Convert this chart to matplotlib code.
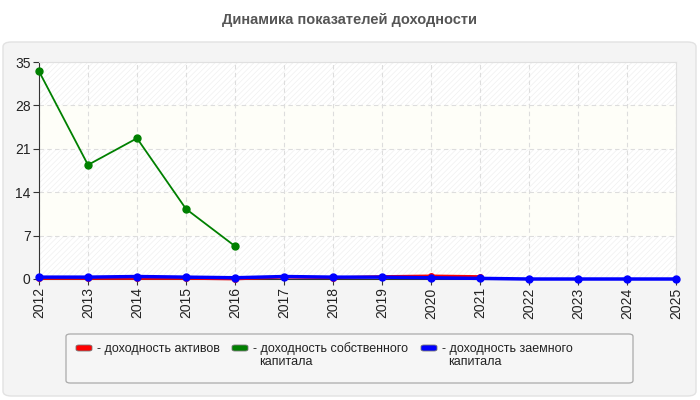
import matplotlib
matplotlib.use('Agg')
import matplotlib.pyplot as plt
from matplotlib.patches import FancyBboxPatch

plt.rcParams['font.family'] = ['Liberation Sans', 'DejaVu Sans']
plt.rcParams['hatch.linewidth'] = 0.5

years = [2012, 2013, 2014, 2015, 2016, 2017, 2018, 2019, 2020, 2021, 2022, 2023, 2024, 2025]

# доходность активов
assets_years = [2012, 2013, 2014, 2015, 2016, 2017, 2018, 2019, 2020, 2021]
assets = [0.1, 0.1, 0.1, 0.1, 0.0, 0.3, 0.2, 0.4, 0.5, 0.4]

# доходность собственного капитала
equity_years = [2012, 2013, 2014, 2015, 2016]
equity = [33.5, 18.4, 22.7, 11.3, 5.3]

# доходность заемного капитала
debt = [0.3, 0.3, 0.4, 0.3, 0.2, 0.4, 0.3, 0.3, 0.2, 0.1, 0.0, 0.0, 0.0, 0.0]

y_ticks = [0, 7, 14, 21, 28, 35]
labels = ['- доходность активов', '- доходность собственного\nкапитала',
          '- доходность заемного\nкапитала']
colors = ['#ff0000', '#008000', '#0000ff']

fig = plt.figure(figsize=(7, 4), dpi=100)
fig.patch.set_facecolor('white')

# outer panel
panel = FancyBboxPatch((3/700, 4/400), 693/700, 354/400,
                       boxstyle='round,pad=0,rounding_size=0.012',
                       transform=fig.transFigure, facecolor='#f4f4f4',
                       edgecolor='#e2e2e2', linewidth=1, zorder=-10)
fig.patches.append(panel)

fig.text(0.5, 0.95, 'Динамика показателей доходности', ha='center', va='center',
         fontsize=10.5, fontweight='bold', color='#555555',
         family=['Liberation Sans Narrow', 'Liberation Sans', 'DejaVu Sans'])

ax = fig.add_axes([39/700, 1 - 279/400, 637/700, 217/400])
ax.set_zorder(2)
ax.set_facecolor('white')
ax.set_xlim(2012, 2025)
ax.set_ylim(0, 35)

# alternating bands
for i in range(5):
    lo, hi = y_ticks[i], y_ticks[i + 1]
    if i % 2 == 0:
        ax.axhspan(lo, hi, facecolor='white', edgecolor='#f0f0f0', hatch='//////',
                   linewidth=0, zorder=0)
    else:
        ax.axhspan(lo, hi, facecolor='#fefef8', linewidth=0, zorder=0)

ax.grid(True, linestyle=(0, (4, 3)), color='#dddddd', linewidth=0.8, zorder=1)
ax.set_axisbelow(True)
ax.set_xticks(years)
ax.set_xticklabels([str(y) for y in years], rotation=90, fontsize=10, color='#222222')
ax.set_yticks(y_ticks)
ax.set_yticklabels([str(v) for v in y_ticks], fontsize=10, color='#222222')
ax.tick_params(length=4, width=0.8, color='#333333', pad=2)

for side in ['top', 'right']:
    ax.spines[side].set_color('#e0e0e0')
ax.spines['left'].set_color('#333333')
ax.spines['bottom'].set_color('#333333')

ax.plot(assets_years, assets, color=colors[0], linewidth=2, marker='o',
        markersize=4, zorder=3, clip_on=False)
ax.plot(equity_years, equity, color=colors[1], linewidth=1.3, marker='o',
        markersize=5, zorder=4, clip_on=False)
ax.plot(years, debt, color=colors[2], linewidth=2.5, marker='o',
        markersize=5, zorder=5, clip_on=False)

# legend box
leg = FancyBboxPatch((66/700, 1 - 383/400), 567/700, 49/400,
                     boxstyle='round,pad=0,rounding_size=0.006',
                     transform=fig.transFigure, facecolor='#f6f6f6',
                     edgecolor='#aaaaaa', linewidth=0.9, zorder=1)
fig.patches.append(leg)

swatch_x = [76, 232, 421]
for sx, lab, col in zip(swatch_x, labels, colors):
    sw = FancyBboxPatch((sx/700, 1 - 351/400), 16/700, 6/400,
                        boxstyle='round,pad=0,rounding_size=0.004',
                        transform=fig.transFigure, facecolor=col,
                        edgecolor='#777777', linewidth=0.6, zorder=2)
    fig.patches.append(sw)
    first, _, rest = lab.partition('\n')
    fig.text((sx + 21)/700, 1 - 349/400, first, ha='left', va='center',
             fontsize=9, color='#222222', zorder=3)
    if rest:
        fig.text((sx + 27)/700, 1 - 362/400, rest, ha='left', va='center',
                 fontsize=9, color='#222222', zorder=3)

fig.savefig('out.png', dpi=100)
